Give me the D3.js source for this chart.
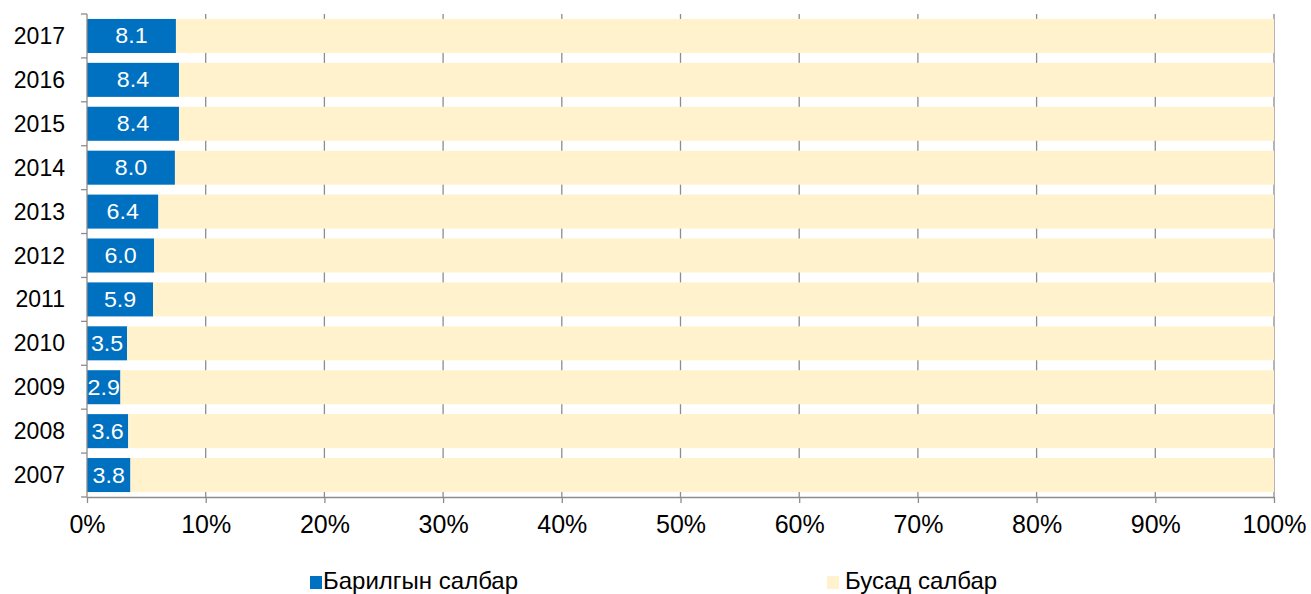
<!DOCTYPE html>
<html>
<head>
<meta charset="utf-8">
<script src="https://cdn.jsdelivr.net/npm/d3@7"></script>
<style>
    body { margin: 0; background: #fff; }
    svg { display: block; font-family: Arial, "Liberation Sans", sans-serif; }
</style>
</head>
<body>
<svg id="chart" width="1311" height="594"></svg>
<script>
// data
const years = ["2017", "2016", "2015", "2014", "2013", "2012", "2011", "2010", "2009", "2008", "2007"];
const construction = [8.1, 8.4, 8.4, 8.0, 6.4, 6.0, 5.9, 3.5, 2.9, 3.6, 3.8];
const other = [100, 100, 100, 100, 100, 100, 100, 100, 100, 100, 100];
const xTicks = [0, 0.1, 0.2, 0.3, 0.4, 0.5, 0.6, 0.7, 0.8, 0.9, 1];
const seriesNames = ["Барилгын салбар", "Бусад салбар"];
const colors = ["#0070C0", "#FFF2CC"];

const svg = d3.select("#chart");
const mLeft = 87, mRight = 1274, mTop = 14, mBottom = 497;

const rows = years.map((yr, i) => {
    const total = construction[i] + other[i];
    return { year: yr, label: construction[i].toFixed(1), a: construction[i] / total, b: other[i] / total };
});

const x = d3.scaleLinear().domain([0, 1]).range([mLeft, mRight]);
const y = d3.scaleBand().domain(years).range([mTop, mBottom])
    .paddingInner(0.225).paddingOuter(0.1125);

const grey = "#8c8c8c";

// gridlines behind bars
svg.append("g")
    .selectAll("line")
    .data(xTicks.slice(1))
    .enter()
    .append("line")
    .attr("x1", d => x(d)).attr("x2", d => x(d))
    .attr("y1", mTop).attr("y2", mBottom)
    .attr("stroke", grey).attr("stroke-width", 1.3);

const bars = svg.append("g");
bars.selectAll("rect.a")
    .data(rows)
    .enter()
    .append("rect")
    .attr("class", "a")
    .attr("x", x(0))
    .attr("y", d => y(d.year))
    .attr("width", d => x(d.a) - x(0))
    .attr("height", y.bandwidth())
    .attr("fill", colors[0]);

bars.selectAll("rect.b")
    .data(rows)
    .enter()
    .append("rect")
    .attr("class", "b")
    .attr("x", d => x(d.a))
    .attr("y", d => y(d.year))
    .attr("width", d => x(d.a + d.b) - x(d.a))
    .attr("height", y.bandwidth())
    .attr("fill", colors[1]);

// value labels inside the blue part
bars.selectAll("text")
    .data(rows)
    .enter()
    .append("text")
    .attr("transform", d => `translate(${(x(0) + x(d.a)) / 2},${y(d.year) + y.bandwidth() / 2 + 7.5}) scale(1.08,1)`)
    .attr("text-anchor", "middle")
    .attr("fill", "#fff")
    .attr("font-size", 21.5)
    .text(d => d.label);

// bottom axis
const xAxis = svg.append("g")
    .attr("transform", `translate(0,${mBottom})`)
    .call(d3.axisBottom(x).tickValues(xTicks).tickFormat(d3.format(".0%")).tickSizeInner(6).tickSizeOuter(0).tickPadding(12));
xAxis.attr("font-family", null);
xAxis.select(".domain").attr("stroke", grey).attr("stroke-width", 1.3);
xAxis.selectAll(".tick line").attr("stroke", grey).attr("stroke-width", 1.3);
xAxis.selectAll("text").attr("font-size", 25).attr("fill", "#000");

// left axis: ticks at band boundaries
const yAxis = svg.append("g");
yAxis.append("line")
    .attr("x1", mLeft).attr("x2", mLeft).attr("y1", mTop).attr("y2", mBottom)
    .attr("stroke", grey).attr("stroke-width", 1.3);
const bounds = years.map(yr => y(yr) - y.step() * y.paddingInner() / 2);
bounds.push(mBottom);
bounds[0] = mTop;
yAxis.selectAll("line.t")
    .data(bounds)
    .enter()
    .append("line")
    .attr("class", "t")
    .attr("x1", mLeft - 6).attr("x2", mLeft)
    .attr("y1", d => d).attr("y2", d => d)
    .attr("stroke", grey).attr("stroke-width", 1.3);
yAxis.selectAll("text")
    .data(years)
    .enter()
    .append("text")
    .attr("x", 65)
    .attr("y", d => y(d) + y.bandwidth() / 2 + 8)
    .attr("text-anchor", "end")
    .attr("font-size", 23)
    .text(d => d);

// legend
const legendX = [310, 827];
const legend = svg.append("g")
    .selectAll("g")
    .data(seriesNames)
    .enter()
    .append("g")
    .attr("transform", (d, i) => `translate(${legendX[i]},0)`);
legend.append("rect")
    .attr("x", 0).attr("y", 576).attr("width", 12).attr("height", 13)
    .attr("fill", (d, i) => colors[i]);
legend.append("text")
    .attr("x", (d, i) => i === 0 ? 13 : 18)
    .attr("y", 589)
    .attr("font-size", 24)
    .text(d => d);
</script>
</body>
</html>
